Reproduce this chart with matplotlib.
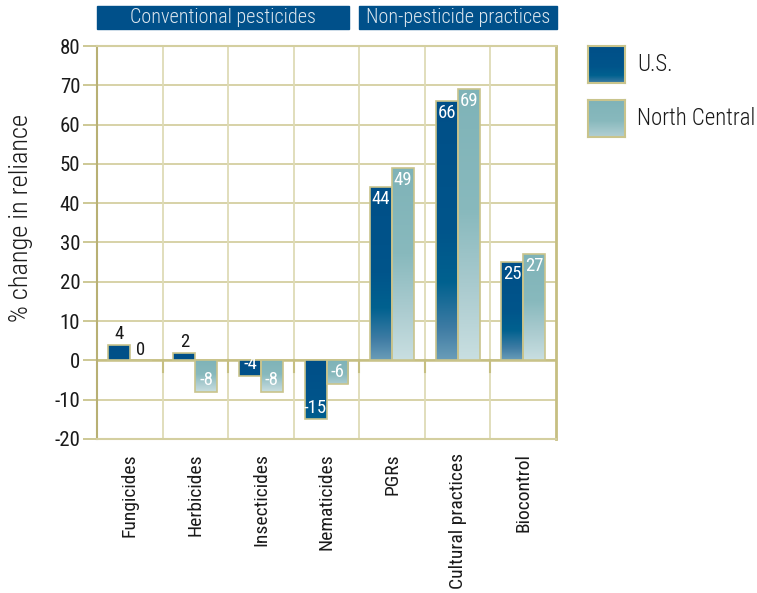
import numpy as np
import matplotlib
matplotlib.use('Agg')
import matplotlib.pyplot as plt
from matplotlib.colors import LinearSegmentedColormap
from matplotlib.patches import Rectangle
import logging
logging.getLogger('matplotlib.font_manager').setLevel(logging.ERROR)

categories = ["Fungicides", "Herbicides", "Insecticides", "Nematicides",
              "PGRs", "Cultural practices", "Biocontrol"]
us_values = [4, 2, -4, -15, 44, 66, 25]
nc_values = [0, -8, -8, -6, 49, 69, 27]
series_names = ["U.S.", "North Central"]
group_names = ["Conventional pesticides", "Non-pesticide practices"]
yticks = [-20, -10, 0, 10, 20, 30, 40, 50, 60, 70, 80]

FONT = ['Roboto Condensed', 'PT Sans Narrow', 'Archivo Narrow',
        'Liberation Sans Narrow', 'Roboto', 'DejaVu Sans']
plt.rcParams['font.family'] = FONT
plt.rcParams['font.weight'] = 'normal'

W, H = 757, 593
fig = plt.figure(figsize=(W / 100, H / 100), dpi=100)


def fx(px):
    return px / W


def fy(py):
    return 1 - py / H


ax = fig.add_axes([fx(97), fy(439), fx(556) - fx(97), fy(46) - fy(439)])
ax.set_xlim(0, len(categories))
ax.set_ylim(-20, 80)

GRID = '#d4cfa0'
EDGE = '#c9c48c'
DARK_KHAKI = '#b8b074'

for y in yticks:
    ax.axhline(y, color=GRID, lw=1.3, zorder=1)
ax.axhline(0, color='#c6bf82', lw=1.8, zorder=1.5)
for b in range(1, len(categories)):
    ax.axvline(b, color='#dedbb6', lw=1.3, zorder=1)
    ax.plot([b, b], [0, -3], color='#c6bf82', lw=1.5, zorder=1.6)

for side, sp in ax.spines.items():
    sp.set_color(GRID)
    sp.set_linewidth(1.5)
ax.spines['left'].set_color(DARK_KHAKI)
ax.spines['right'].set_color('#c6bf82')
ax.spines['right'].set_linewidth(2)

cmap_us = LinearSegmentedColormap.from_list(
    'us', [(0.0, '#6a9db8'), (0.12, '#3f7ca4'), (0.3, '#00618f'),
           (0.5, '#00558b'), (1.0, '#004f88')])
cmap_nc = LinearSegmentedColormap.from_list(
    'nc', [(0.0, '#c9dfe1'), (0.25, '#acccd0'), (0.55, '#88b9bd'),
           (1.0, '#7fb3b8')])

w = 0.335
x = np.arange(len(categories)) + 0.5
bars_us = ax.bar(x - w / 2, us_values, w, facecolor='none', edgecolor=EDGE,
                 lw=1.2, zorder=3)
bars_nc = ax.bar(x + w / 2, nc_values, w, facecolor='none', edgecolor=EDGE,
                 lw=1.2, zorder=3)


def fill_gradient(bar, cmap, scale):
    bx, by = bar.get_x(), bar.get_y()
    bw, bh = bar.get_width(), bar.get_height()
    if bh == 0:
        return
    y0, y1 = min(by, by + bh), max(by, by + bh)
    k = min(1.0, abs(bh) / scale)
    t = np.linspace(0, 1, 256)
    t = 1 - (1 - t) * k
    img = cmap(t)[:, None, :]
    im = ax.imshow(img, extent=[bx, bx + bw, y0, y1], origin='lower',
                   aspect='auto', zorder=2, interpolation='bilinear')
    im.set_clip_path(bar)


for b in bars_us:
    fill_gradient(b, cmap_us, 22)
for b in bars_nc:
    fill_gradient(b, cmap_nc, 8)

ax.set_xlim(0, len(categories))
ax.set_ylim(-20, 80)


def label_bars(bars, values):
    for bar, v in zip(bars, values):
        cx = bar.get_x() + bar.get_width() / 2
        if abs(v) <= 4 and v >= 0:
            ax.annotate(str(v), (cx, v), xytext=(0, 1), textcoords='offset points',
                        ha='center', va='bottom', fontsize=13.5, color='#1a1a1a',
                        zorder=5)
        elif v > 0:
            ax.annotate(str(v), (cx, v), xytext=(0, -2), textcoords='offset points',
                        ha='center', va='top', fontsize=13.5, color='white',
                        zorder=5)
        else:
            ax.annotate(str(v), (cx, v), xytext=(0, 2), textcoords='offset points',
                        ha='center', va='bottom', fontsize=13.5, color='white',
                        zorder=5)


label_bars(bars_us, us_values)
label_bars(bars_nc, nc_values)

ax.set_yticks(yticks)
ax.set_yticklabels([str(v) for v in yticks])
ax.tick_params(axis='y', length=10, color=EDGE, width=1.3, labelsize=15,
               pad=2, labelcolor='#1a1a1a')
ax.set_xticks(x)
ax.set_xticklabels(categories, rotation=90, va='top', ha='center')
ax.tick_params(axis='x', length=0, labelsize=14, pad=10, labelcolor='#1a1a1a')
fig.text(fx(21), fy(218), '% change in reliance', rotation=90, ha='center',
         va='center', fontsize=19, color='#1a1a1a', fontweight='light')

# Group header boxes
headers = [(97, 349), (359, 557)]
for (l, r), name in zip(headers, group_names):
    fig.patches.append(Rectangle((fx(l), fy(29)), fx(r) - fx(l), fy(6) - fy(29),
                                 transform=fig.transFigure, color='#00508a',
                                 zorder=0))
    fig.text(fx((l + r) / 2), fy(17.5), name, ha='center', va='center',
             fontsize=14.5, color='#dde7ef', fontweight='light')

# Legend
leg_items = [(46, 83, cmap_us, series_names[0]),
             (100, 137, cmap_nc, series_names[1])]
for top, bot, cm, name in leg_items:
    lax = fig.add_axes([fx(588), fy(bot), fx(625) - fx(588), fy(top) - fy(bot)])
    g = cm(np.linspace(0.12 if cm is cmap_us else 0.2, 1, 256))[:, None, :]
    lax.imshow(g, origin='lower', aspect='auto', extent=[0, 1, 0, 1])
    lax.set_xticks([])
    lax.set_yticks([])
    for sp in lax.spines.values():
        sp.set_color(EDGE)
        sp.set_linewidth(1.5)
    fig.text(fx(637), fy((top + bot) / 2), name, ha='left', va='center',
             fontsize=16.5, color='#1a1a1a', fontweight='light')

fig.savefig('out.png', dpi=100)
